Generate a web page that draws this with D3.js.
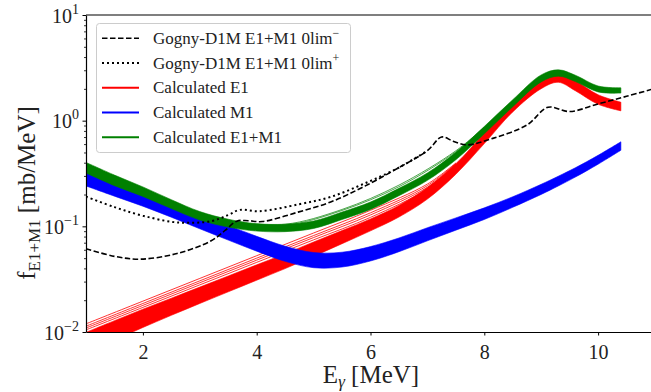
<!DOCTYPE html>
<html>
<head>
<meta charset="utf-8">
<script src="https://cdn.jsdelivr.net/npm/d3@7"></script>
<style>
  body { margin: 0; background: #fff; }
  text { font-family: "Liberation Serif", serif; fill: #222; }
</style>
</head>
<body>
<div id="chart"></div>
<script>
// Gogny-D1M reference strength functions
const gognyMinusE = [1, 1.5, 1.95, 2.6, 3.2, 3.45, 3.65, 3.85, 4.1, 4.7, 5.3, 5.9, 6.5, 7.0, 7.25, 7.45, 7.7, 8.15, 8.75, 9.12, 9.5, 10.0, 10.5, 11.0];
const gognyMinusF = [0.0615, 0.052, 0.0489, 0.0553, 0.073, 0.092, 0.112, 0.113, 0.111, 0.135, 0.17, 0.24, 0.36, 0.52, 0.70, 0.64, 0.59, 0.68, 0.91, 1.34, 1.22, 1.44, 1.7, 2.02];
const gognyPlusE = [1, 1.5, 2, 2.6, 3.2, 3.5, 3.7, 4.05, 4.75, 5.3, 5.9, 6.5, 7.0];
const gognyPlusF = [0.191, 0.152, 0.126, 0.109, 0.112, 0.128, 0.143, 0.139, 0.162, 0.19, 0.255, 0.36, 0.52];

// calculated bands: lower / upper envelope of the sampled curves
const bandE = [1, 1.5, 2, 2.5, 3, 3.5, 4, 4.5, 5, 5.5, 6, 6.5, 7, 7.5, 8, 8.5, 9, 9.3, 9.6, 10, 10.4];
const e1Lo = [0.00631, 0.00836, 0.01104, 0.01439, 0.01862, 0.02399, 0.0309, 0.0398, 0.052, 0.0685, 0.0906, 0.1225, 0.1811, 0.3112, 0.6067, 1.211, 2.009, 2.307, 1.919, 1.429, 1.239];
const e1Hi = [0.00993, 0.0128, 0.01644, 0.02089, 0.0266, 0.0339, 0.0432, 0.055, 0.0711, 0.0912, 0.1175, 0.1578, 0.2333, 0.3917, 0.7638, 1.524, 2.495, 2.864, 2.382, 1.758, 1.496];
const m1Lo = [0.241, 0.193, 0.155, 0.122, 0.0948, 0.0741, 0.0582, 0.0466, 0.0406, 0.0412, 0.047, 0.0575, 0.0729, 0.092, 0.1161, 0.1514, 0.2005, 0.241, 0.2924, 0.3873, 0.5248];
const m1Hi = [0.325, 0.26, 0.209, 0.164, 0.13, 0.102, 0.0804, 0.0649, 0.0565, 0.0569, 0.0643, 0.0776, 0.097, 0.1202, 0.1496, 0.1905, 0.25, 0.2979, 0.3581, 0.4699, 0.631];
const sumLo = [0.3199, 0.2427, 0.1919, 0.1472, 0.1148, 0.0984, 0.0902, 0.0891, 0.0955, 0.1161, 0.1445, 0.195, 0.2723, 0.4266, 0.75, 1.355, 2.328, 2.636, 2.344, 1.871, 1.824];
const sumHi = [0.4027, 0.3055, 0.236, 0.1786, 0.138, 0.1167, 0.1059, 0.1047, 0.1122, 0.1365, 0.1698, 0.2291, 0.3199, 0.5012, 0.881, 1.578, 2.71, 3.027, 2.692, 2.128, 2.046];

// a few outlying samples drawn as thin lines
const e1ThinE = [1, 2, 3, 4, 5, 6, 7, 7.5];
const e1Thin = [
  [0.01194, 0.01959, 0.03214, 0.05272, 0.0865, 0.1419, 0.2512, 0.398],
  [0.01135, 0.01862, 0.03048, 0.05, 0.0818, 0.1343, 0.2427, 0.3936],
  [0.01091, 0.01786, 0.02924, 0.04786, 0.07834, 0.1282, 0.2344, 0.389],
  [0.01047, 0.0171, 0.02793, 0.0456, 0.0745, 0.1216, 0.2265, 0.3846]
];
const sumThinE = [3.5, 4.5, 5.5, 6.5, 7.5, 8];
const sumThin = [
  [0.1109, 0.1047, 0.1445, 0.2455, 0.5188, 0.871],
  [0.1096, 0.1023, 0.1413, 0.2371, 0.507, 0.861]
];

const xTicks = [2, 4, 6, 8, 10];
const yMajor = [0.01, 0.1, 1, 10];
const yExp = ["\u22122", "\u22121", "0", "1"];

const width = 651, height = 392;
const plot = {left: 86, right: 655, top: 15, bottom: 332};

const svg = d3.select("#chart").append("svg")
  .attr("width", width).attr("height", height);
svg.append("rect").attr("width", width).attr("height", height).attr("fill", "#fff");

const x = d3.scaleLinear().domain([1, 11]).range([plot.left, plot.right]);
const y = d3.scaleLog().domain([0.01, 10]).range([plot.bottom, plot.top]);
const smooth = d3.curveCatmullRom.alpha(0.5);

svg.append("clipPath").attr("id", "clip")
  .append("rect")
  .attr("x", plot.left).attr("y", plot.top)
  .attr("width", plot.right - plot.left).attr("height", plot.bottom - plot.top);

const layer = svg.append("g").attr("clip-path", "url(#clip)");

function band(lo, hi, color) {
  const rows = bandE.map((e, i) => ({e: e, lo: lo[i], hi: hi[i]}));
  const area = d3.area()
    .x(d => x(d.e)).y0(d => y(d.lo)).y1(d => y(d.hi))
    .curve(smooth);
  layer.append("path").datum(rows)
    .attr("d", area)
    .attr("fill", color)
    .attr("stroke", color)
    .attr("stroke-width", 0.6);
}

function line(es, vs, color, w, dash) {
  const rows = es.map((e, i) => ({e: e, v: vs[i]}));
  const gen = d3.line().x(d => x(d.e)).y(d => y(d.v)).curve(smooth);
  const p = layer.append("path").datum(rows)
    .attr("d", gen)
    .attr("fill", "none")
    .attr("stroke", color)
    .attr("stroke-width", w);
  if (dash) p.attr("stroke-dasharray", dash);
  return p;
}

// bands: E1 underneath, then M1, then the sum on top
band(e1Lo, e1Hi, "#ff0000");
e1Thin.forEach(vs => line(e1ThinE, vs, "#ff0000", 0.8));
band(m1Lo, m1Hi, "#0000ff");
band(sumLo, sumHi, "#008000");
sumThin.forEach(vs => line(sumThinE, vs, "#008000", 0.7));

// Gogny curves
line(gognyMinusE, gognyMinusF, "#000", 1.6, "5.5,2.5");
line(gognyPlusE, gognyPlusF, "#000", 2, "2,3");

// axes
const xAxis = svg.append("g")
  .attr("transform", `translate(0,${plot.bottom})`)
  .call(d3.axisBottom(x).tickValues(xTicks).tickSize(3.5).tickSizeOuter(0).tickFormat(d3.format("d")));
xAxis.select(".domain").attr("stroke", "#000").attr("stroke-width", 1.2);
xAxis.selectAll(".tick line").attr("stroke", "#000").attr("stroke-width", 1);
xAxis.selectAll(".tick text")
  .attr("font-family", "Liberation Serif, serif")
  .attr("font-size", 20).attr("fill", "#222").attr("dy", "1.0em");

const minors = [];
[0.01, 0.1, 1].forEach(d => { for (let k = 2; k <= 9; k++) minors.push(d * k); });

const yMinor = svg.append("g")
  .attr("transform", `translate(${plot.left},0)`)
  .call(d3.axisLeft(y).tickValues(minors).tickSize(2).tickFormat(""));
yMinor.select(".domain").remove();
yMinor.selectAll(".tick line").attr("stroke", "#000").attr("stroke-width", 0.8);

const yAxis = svg.append("g")
  .attr("transform", `translate(${plot.left},0)`)
  .call(d3.axisLeft(y).tickValues(yMajor).tickSize(3.5).tickSizeOuter(0).tickFormat(""));
yAxis.select(".domain").attr("stroke", "#000").attr("stroke-width", 1.2);
yAxis.selectAll(".tick line").attr("stroke", "#000").attr("stroke-width", 1);
yAxis.selectAll(".tick").each(function (d, i) {
  const t = d3.select(this).append("text")
    .attr("x", -7).attr("y", 7)
    .attr("text-anchor", "end")
    .attr("font-size", 20).attr("fill", "#222");
  t.append("tspan").text("10");
  t.append("tspan").attr("dy", -9).attr("font-size", 14).text(yExp[i]);
});

// top spine
svg.append("line")
  .attr("x1", plot.left).attr("x2", plot.right)
  .attr("y1", plot.top).attr("y2", plot.top)
  .attr("stroke", "#000").attr("stroke-width", 1.2);

// axis labels
const xl = svg.append("text")
  .attr("x", 371).attr("y", 383)
  .attr("text-anchor", "middle").attr("font-size", 25);
xl.append("tspan").text("E");
xl.append("tspan").attr("dy", 4).attr("font-size", 17).attr("font-style", "italic").text("\u03b3");
xl.append("tspan").attr("dy", -4).text(" [MeV]");

const yl = svg.append("text")
  .attr("transform", "translate(35,193) rotate(-90)")
  .attr("text-anchor", "middle").attr("font-size", 25);
yl.append("tspan").text("f");
yl.append("tspan").attr("dy", 5).attr("font-size", 17).text("E1+M1");
yl.append("tspan").attr("dy", -5).text(" [mb/MeV]");

// legend
const legendItems = [
  {label: "Gogny-D1M E1+M1 0lim", sup: "\u2212", color: "#000", w: 1.6, dash: "5.5,2.5"},
  {label: "Gogny-D1M E1+M1 0lim", sup: "+", color: "#000", w: 2, dash: "2,3"},
  {label: "Calculated E1", color: "#ff0000", w: 2},
  {label: "Calculated M1", color: "#0000ff", w: 2},
  {label: "Calculated E1+M1", color: "#008000", w: 2}
];
const lg = svg.append("g");
lg.append("rect")
  .attr("x", 96.5).attr("y", 23.5).attr("width", 254).attr("height", 129).attr("rx", 3)
  .attr("fill", "#fff").attr("fill-opacity", 0.8)
  .attr("stroke", "#cccccc").attr("stroke-width", 1);
legendItems.forEach((it, i) => {
  const cy = 38.3 + i * 24.75;
  const l = lg.append("line")
    .attr("x1", 102).attr("x2", 139).attr("y1", cy).attr("y2", cy)
    .attr("stroke", it.color).attr("stroke-width", it.w);
  if (it.dash) l.attr("stroke-dasharray", it.dash);
  const t = lg.append("text").attr("x", 153).attr("y", cy + 5.5).attr("font-size", 17);
  t.append("tspan").text(it.label);
  if (it.sup) t.append("tspan").attr("dy", -7).attr("font-size", 12).text(it.sup);
});
</script>
</body>
</html>
